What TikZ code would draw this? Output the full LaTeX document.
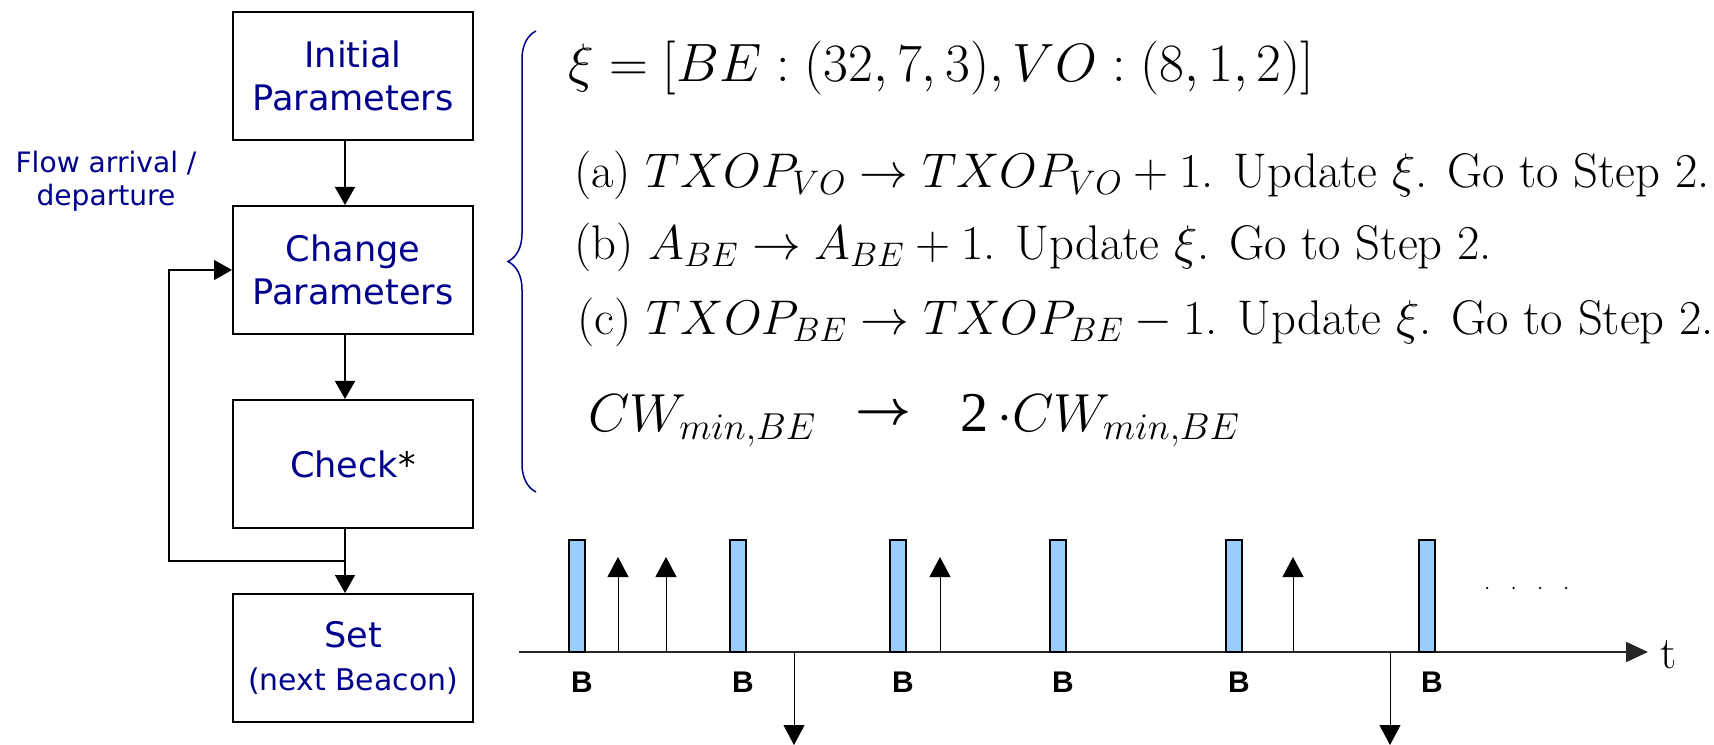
\documentclass[tikz,border=0pt]{standalone}
\usepackage{fix-cm}
\usepackage{bm}
\usepackage{fontspec}
\setsansfont{DejaVu Sans}
\newfontfamily\beaconfont{Liberation Sans}
\newfontfamily\twofont{Liberation Serif}
\usetikzlibrary{arrows.meta,positioning,decorations.pathreplacing}
\definecolor{flownavy}{RGB}{0,0,140}
\definecolor{beaconblue}{RGB}{153,204,255}
\tikzset{
    flowbox/.style={rectangle,draw,line width=0.04cm,align=center,minimum width=4.8cm,minimum height=2.56cm,text=flownavy,font=\sffamily\fontsize{20}{24.5}\selectfont},
    flowlabel/.style={align=center,text=flownavy,font=\sffamily\fontsize{16}{19}\selectfont},
    flowline/.style={-{Triangle[length=0.36cm,width=0.4cm]},line width=0.03cm},
    eqline/.style={anchor=west,inner sep=0pt,font=\fontsize{27.7}{32}\selectfont},
    bracepath/.style={draw=flownavy,line width=0.03cm,decorate,decoration={brace,amplitude=0.56cm}},
    axisline/.style={-{Triangle[length=0.44cm,width=0.4cm]},line width=0.04cm,draw=black!85},
    beaconbar/.style={fill=beaconblue,draw=black,line width=0.035cm},
    beaconlabel/.style={font=\beaconfont\bfseries\fontsize{17}{19}\selectfont},
    flowarrive/.style={-{Triangle[length=0.4cm,width=0.42cm]},line width=0.02cm},
    flowleave/.style={-{Triangle[length=0.4cm,width=0.42cm]},line width=0.02cm}
}
\begin{document}
\begin{tikzpicture}[node distance=1.28cm]
    \useasboundingbox (0,0) rectangle (34.28,-14.9);
    % flow chart
    \node[flowbox] (init) at (7.06,-1.52) {Initial\\Parameters};
    \node[flowbox,below=of init] (change) {Change\\Parameters};
    \node[flowbox,below=of change] (check) {Check\textcolor{black}{*}};
    \node[flowbox,below=of check] (set) {Set\\{\fontsize{17}{20}\selectfont(next Beacon)}};
    \node[flowlabel] (flowevent) at (2.12,-3.62) {Flow arrival /\\departure};
    \draw[flowline] ([xshift=-0.16cm]init.south) -- ([xshift=-0.16cm]change.north);
    \draw[flowline] ([xshift=-0.16cm]change.south) -- ([xshift=-0.16cm]check.north);
    \draw[flowline] ([xshift=-0.16cm]check.south) -- ([xshift=-0.16cm]set.north);
    \coordinate (loopturn) at ([xshift=-0.16cm,yshift=-0.64cm]check.south);
    \coordinate (loopleft) at (3.38,0);
    \draw[flowline] (loopturn) -- (loopturn -| loopleft) |- (change.west);
    % parameter changes
    \draw[bracepath] (10.72,-9.84) -- (10.72,-0.62);
    \node[eqline,font=\fontsize{30.7}{34}\selectfont] (xi) at (11.36,-1.36) {$\xi=[BE:(32,7,3),VO:(8,1,2)]$};
    \node[eqline] (stepa) at (11.48,-3.5) {(a)\ $TXOP_{VO}\rightarrow TXOP_{VO}+1$. Update $\xi$. Go to Step 2.};
    \node[eqline] (stepb) at (11.48,-4.94) {(b)\ $A_{BE}\rightarrow A_{BE}+1$. Update $\xi$. Go to Step 2.};
    \node[eqline] (stepc) at (11.54,-6.44) {(c)\ $TXOP_{BE}\rightarrow TXOP_{BE}-1$. Update $\xi$. Go to Step 2.};
    \node[eqline,font=\fontsize{30.5}{34}\selectfont] (cwold) at (11.76,-8.42) {$CW_{min,BE}$};
    \node[eqline] (cwarrow) at (17.1,-8.3) {$\bm{\rightarrow}$};
    \node[eqline,font=\fontsize{30.5}{34}\selectfont] (cwnew) at (19.2,-8.42) {{\twofont\fontsize{32}{34}\selectfont 2}$\,\cdot CW_{min,BE}$};
    % beacon time line
    \coordinate (axisstart) at (10.38,-13.04);
    \coordinate (axisend) at (32.96,-13.04);
    \draw[axisline] (axisstart) -- (axisend);
    \node[font=\fontsize{26}{28}\selectfont,anchor=west,inner sep=0pt] (tlabel) at (33.2,-13.1) {t};
    \foreach \bx [count=\i] in {11.54,14.76,17.96,21.16,24.68,28.54} {
        \draw[beaconbar] (\bx-0.155,-13.04) rectangle (\bx+0.155,-10.8);
        \node[beaconlabel] (beacon\i) at (\bx+0.1,-13.64) {B};
    }
    \foreach \ax in {12.36,13.32,18.8,25.86} {
        \coordinate (arrivefoot) at (\ax,-13.04);
        \coordinate (arrivetip) at (\ax,-11.14);
        \draw[flowarrive] (arrivefoot) -- (arrivetip);
    }
    \foreach \dx in {15.88,27.8} {
        \coordinate (leavefoot) at (\dx,-13.04);
        \coordinate (leavetip) at (\dx,-14.9);
        \draw[flowleave] (leavefoot) -- (leavetip);
    }
    \foreach \px in {29.74,30.27,30.8,31.32}
        \fill (\px,-11.76) circle (0.025cm);
\end{tikzpicture}
\end{document}
